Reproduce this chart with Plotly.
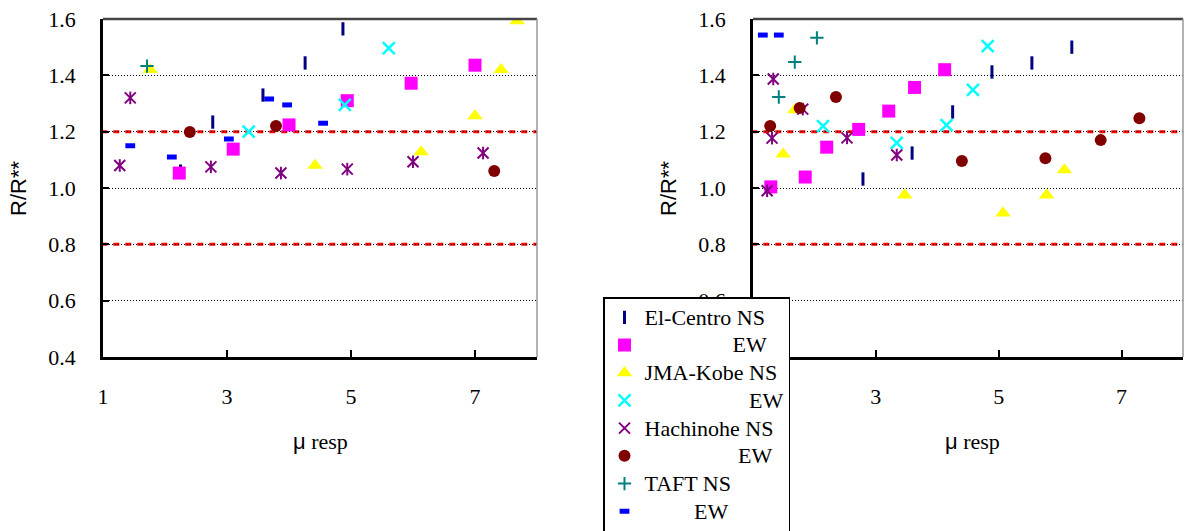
import plotly.graph_objects as go

# ---------------- data ----------------
series_names = ["El-Centro NS", "EW_1", "JMA-Kobe NS", "EW_2",
                "Hachinohe NS", "EW_3", "TAFT NS", "EW_4"]
legend_labels = ["El-Centro NS",
                 "\u00a0" * 16 + "EW",
                 "JMA-Kobe NS",
                 "\u00a0" * 19 + "EW",
                 "Hachinohe NS",
                 "\u00a0" * 17 + "EW",
                 "TAFT NS",
                 "\u00a0" * 9 + "EW"]

# left panel
L_elcentro_ns_x = [2.25, 2.77, 3.58, 4.26, 4.87]
L_elcentro_ns_y = [1.06, 1.234, 1.33, 1.444, 1.565]
L_elcentro_ew_x = [2.23, 3.10, 4.00, 4.94, 5.97, 7.00]
L_elcentro_ew_y = [1.053, 1.138, 1.224, 1.31, 1.372, 1.436]
L_jma_ns_x = [1.76, 4.42, 6.13, 7.00, 7.42, 7.68]
L_jma_ns_y = [1.42, 1.08, 1.128, 1.256, 1.42, 1.593]
L_jma_ew_x = [3.35, 4.90, 5.61]
L_jma_ew_y = [1.20, 1.295, 1.497]
L_hachi_ns_x = [1.27, 1.44, 2.74, 3.87, 4.94, 6.00, 7.13]
L_hachi_ns_y = [1.08, 1.32, 1.075, 1.053, 1.067, 1.093, 1.124]
L_hachi_ew_x = [2.40, 3.79, 7.31]
L_hachi_ew_y = [1.199, 1.22, 1.06]
L_taft_ns_x = [1.71]
L_taft_ns_y = [1.433]
L_taft_ew_x = [1.44, 2.11, 3.03, 3.68, 3.97, 4.55]
L_taft_ew_y = [1.15, 1.11, 1.174, 1.316, 1.295, 1.23]

# right panel
R_elcentro_ns_x = [2.79, 3.59, 4.25, 4.89, 5.54, 6.19]
R_elcentro_ns_y = [1.032, 1.124, 1.27, 1.412, 1.444, 1.50]
R_elcentro_ew_x = [1.29, 1.85, 2.20, 2.72, 3.21, 3.63, 4.12]
R_elcentro_ew_y = [1.004, 1.039, 1.145, 1.208, 1.273, 1.357, 1.42]
R_jma_ns_x = [1.49, 1.68, 3.47, 5.07, 5.78, 6.07]
R_jma_ns_y = [1.12, 1.277, 0.975, 0.911, 0.975, 1.064]
R_jma_ew_x = [2.14, 3.34, 4.15, 4.58, 4.82]
R_jma_ew_y = [1.22, 1.16, 1.223, 1.348, 1.504]
R_hachi_ns_x = [1.23, 1.31, 1.33, 1.81, 2.53, 3.34]
R_hachi_ns_y = [0.99, 1.177, 1.387, 1.28, 1.178, 1.117]
R_hachi_ew_x = [1.28, 1.76, 2.35, 4.40, 5.76, 6.66, 7.29]
R_hachi_ew_y = [1.22, 1.284, 1.323, 1.096, 1.106, 1.17, 1.248]
R_taft_ns_x = [1.42, 1.68, 2.04]
R_taft_ns_y = [1.323, 1.447, 1.533]
R_taft_ew_x = [1.16, 1.42]
R_taft_ew_y = [1.543, 1.543]

x_ticks = [1, 3, 5, 7]
y_ticks = [0.4, 0.6, 0.8, 1.0, 1.2, 1.4, 1.6]
limit_lines = [1.2, 0.8]

# ---------------- styles ----------------
styles = [
    dict(symbol="line-ns", size=9.5, color="#000080", line=dict(color="#000080", width=3)),
    dict(symbol="square", size=13, color="#FF00FF", line=dict(width=0)),
    dict(symbol="triangle-up", size=13.5, color="#FFFF00", line=dict(width=0)),
    dict(symbol="x-thin", size=12, color="#00FFFF", line=dict(color="#00FFFF", width=2.5)),
    dict(symbol="x-thin", size=11, color="#800080", line=dict(color="#800080", width=2)),
    dict(symbol="circle", size=12, color="#800000", line=dict(width=0)),
    dict(symbol="cross-thin", size=9.5, color="#008080", line=dict(color="#008080", width=2)),
    dict(symbol="line-ew", size=7, color="#0000FF", line=dict(color="#0000FF", width=5)),
]
hachi_extra = dict(symbol="line-ns", size=9, color="#800080", line=dict(color="#800080", width=2))

left_data = [(L_elcentro_ns_x, L_elcentro_ns_y), (L_elcentro_ew_x, L_elcentro_ew_y),
             (L_jma_ns_x, L_jma_ns_y), (L_jma_ew_x, L_jma_ew_y),
             (L_hachi_ns_x, L_hachi_ns_y), (L_hachi_ew_x, L_hachi_ew_y),
             (L_taft_ns_x, L_taft_ns_y), (L_taft_ew_x, L_taft_ew_y)]
right_data = [(R_elcentro_ns_x, R_elcentro_ns_y), (R_elcentro_ew_x, R_elcentro_ew_y),
              (R_jma_ns_x, R_jma_ns_y), (R_jma_ew_x, R_jma_ew_y),
              (R_hachi_ns_x, R_hachi_ns_y), (R_hachi_ew_x, R_hachi_ew_y),
              (R_taft_ns_x, R_taft_ns_y), (R_taft_ew_x, R_taft_ew_y)]

fig = go.Figure()
for panel, data, xa, ya in [(0, left_data, "x", "y"), (1, right_data, "x2", "y2")]:
    for i, (xs, ys) in enumerate(data):
        fig.add_trace(go.Scatter(
            x=xs, y=ys, mode="markers", xaxis=xa, yaxis=ya,
            name="<span style='font-size:22px'>" + legend_labels[i] + "</span>",
            legendgroup=series_names[i], showlegend=(panel == 0), marker=styles[i],
            hoverinfo="skip"))
        if i == 4:
            fig.add_trace(go.Scatter(x=xs, y=ys, mode="markers", xaxis=xa, yaxis=ya,
                                     legendgroup=series_names[i], showlegend=False,
                                     marker=hachi_extra, hoverinfo="skip"))

W, H = 1185, 531
serif = "Liberation Serif"
sans = "Liberation Sans"

def xaxis_cfg(domain, anchor):
    return dict(domain=domain, range=[1, 8], tickvals=x_ticks, ticks="inside", ticklen=7,
                tickwidth=2, tickcolor="black", showline=True, linecolor="black", linewidth=2.5,
                showgrid=False, zeroline=False, tickfont=dict(family=serif, size=22, color="black"),
                ticklabelstandoff=18, automargin=False, fixedrange=True, anchor=anchor)

def yaxis_cfg(domain, anchor):
    return dict(domain=domain, range=[0.4, 1.6], tickvals=y_ticks, tickformat=".1f",
                ticks="inside", ticklen=6, tickwidth=2, tickcolor="black", showline=True,
                linecolor="black", linewidth=2.5, showgrid=True, gridcolor="black",
                griddash="1px,2px", gridwidth=1.2, zeroline=False, anchor=anchor,
                tickfont=dict(family=serif, size=22, color="black"),
                ticklabelstandoff=20, automargin=False, fixedrange=True)

ydom = [1 - 357 / H, 1 - 19 / H]
fig.update_layout(
    width=W, height=H, margin=dict(l=0, r=0, t=0, b=0, autoexpand=False),
    paper_bgcolor="white", plot_bgcolor="white",
    xaxis=xaxis_cfg([103 / W, 537 / W], "y"),
    yaxis=yaxis_cfg(ydom, "x"),
    xaxis2=xaxis_cfg([753 / W, 1183 / W], "y2"),
    yaxis2=yaxis_cfg(ydom, "x2"),
    legend=dict(x=603 / W, y=1 - 297 / H, xanchor="left", yanchor="top",
                bgcolor="white", bordercolor="black", borderwidth=1.5,
                font=dict(family=serif, size=19, color="black"),
                tracegroupgap=0),
    showlegend=True,
)

shapes = []
for xd, yd in [("x", "y"), ("x2", "y2")]:
    for yv in limit_lines:
        shapes.append(dict(type="line", xref=xd + " domain", yref=yd, x0=-0.004, x1=1, y0=yv, y1=yv,
                           line=dict(color="red", width=3, dash="6px,6px"), layer="below"))
    shapes.append(dict(type="line", xref=xd + " domain", yref=yd + " domain", x0=0, x1=1, y0=1, y1=1,
                       line=dict(color="#444", width=2.5), layer="above"))
    shapes.append(dict(type="line", xref=xd + " domain", yref=yd + " domain", x0=1, x1=1, y0=0, y1=1,
                       line=dict(color="#999", width=1.5), layer="above"))
fig.update_layout(shapes=shapes)

annotations = []
for cx, cy in [(19, 189), (669, 189)]:
    annotations.append(dict(text="R/R**", x=cx / W, y=1 - cy / H, xref="paper", yref="paper",
                            showarrow=False, textangle=-90, xanchor="center", yanchor="middle",
                            font=dict(family=sans, size=22, color="black")))
for cx, cy in [(320, 441), (972, 441)]:
    annotations.append(dict(text="<span style='font-family:Liberation Sans'>μ</span> resp",
                            x=cx / W, y=1 - cy / H, xref="paper", yref="paper",
                            showarrow=False, xanchor="center", yanchor="middle",
                            font=dict(family=serif, size=22, color="black")))
fig.update_layout(annotations=annotations)

fig.write_html("out.html")
